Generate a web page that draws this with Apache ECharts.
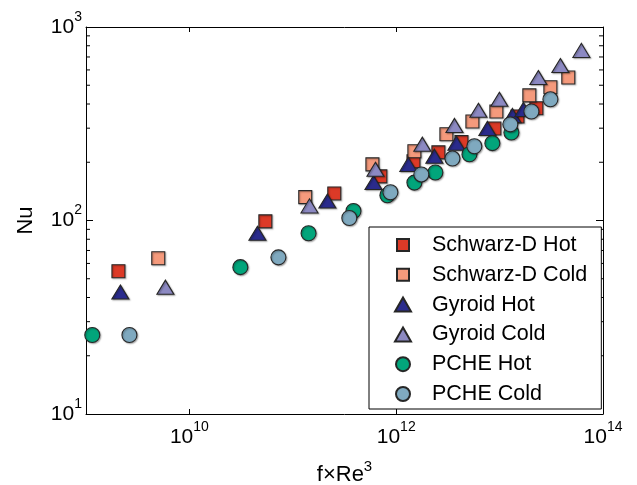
<!DOCTYPE html>
<html>
<head>
<meta charset="utf-8">
<script src="https://cdn.jsdelivr.net/npm/echarts@6/dist/echarts.min.js"></script>
<style>html,body{margin:0;padding:0;background:#fff}#c{width:637px;height:485px}</style>
</head>
<body>
<div id="c"></div>
<script>
// ---- data ----
const seriesNames = ['Schwarz-D Hot', 'Schwarz-D Cold', 'Gyroid Hot', 'Gyroid Cold', 'PCHE Hot', 'PCHE Cold'];
const sdHotX  = [2.06e9, 5.43e10, 2.52e11, 7.03e11, 1.47e12, 2.56e12, 4.28e12, 8.91e12, 1.49e13, 2.27e13];
const sdHotY  = [54.7, 99, 138, 169, 202, 225, 254, 299, 345, 380];
const sdColdX = [5.0e9, 1.32e11, 5.89e11, 1.50e12, 3.06e12, 5.46e12, 9.31e12, 1.94e13, 3.10e13, 4.62e13];
const sdColdY = [63.8, 132, 195, 228, 279, 325, 366, 443, 488, 548];
const gyHotX  = [2.15e9, 4.55e10, 2.16e11, 6.03e11, 1.31e12, 2.34e12, 3.82e12, 7.62e12, 1.33e13, 1.70e13];
const gyHotY  = [42.7, 85.9, 126, 157, 195, 215, 251, 299, 349, 375];
const gyColdX = [5.86e9, 1.45e11, 6.30e11, 1.79e12, 3.66e12, 6.24e12, 9.95e12, 2.37e13, 3.87e13, 6.18e13];
const gyColdY = [45.2, 119, 184, 248, 310, 371, 423, 548, 632, 757];
const pcHotX  = [1.15e9, 3.11e10, 1.42e11, 3.86e11, 8.22e11, 1.50e12, 2.39e12, 5.11e12, 8.51e12, 1.30e13];
const pcHotY  = [25.6, 57.4, 85.9, 112, 135, 157, 177, 220, 251, 285];
const pcColdX = [2.63e9, 7.26e10, 3.52e11, 8.79e11, 1.75e12, 3.50e12, 5.70e12, 1.27e13, 2.03e13, 3.10e13];
const pcColdY = [25.6, 64.5, 103, 140, 173, 209, 242, 314, 366, 423];

const xMin = 1e9, xMax = 1e14, yMin = 10, yMax = 1000;
const xExpMin = 9, xExpMax = 14;               // exponents for the decade labels
const yMinorTicks = [20, 30, 40, 50, 60, 70, 80, 90, 200, 300, 400, 500, 600, 700, 800, 900];

const xs = [sdHotX, sdColdX, gyHotX, gyColdX, pcHotX, pcColdX];
const ys = [sdHotY, sdColdY, gyHotY, gyColdY, pcHotY, pcColdY];
const colors  = ['#dc3a27', '#f59a7c', '#2a2b8c', '#8c89c2', '#02a57b', '#7fa9bf'];
const symbols = ['rect', 'rect', 'triangle', 'triangle', 'circle', 'circle'];
const sizes   = [13, 13, [17, 14], [17, 14], 15, 15];
const squareIcon = 'path://M0,0M16,14M2,1h12v12h-12z';
const legendIcons = [squareIcon, squareIcon, 'triangle', 'triangle', 'circle', 'circle'];

const FONT = '"Liberation Sans", Arial, Helvetica, sans-serif';
const rich = {
  b: { fontSize: 21, lineHeight: 34, fontFamily: FONT, color: '#000' },
  s: { fontSize: 14, lineHeight: 14, fontFamily: FONT, color: '#000', verticalAlign: 'top' }
};

const chart = echarts.init(document.getElementById('c'), null, { renderer: 'canvas' });

const series = seriesNames.map((name, i) => ({
  name,
  type: 'scatter',
  xAxisIndex: 0, yAxisIndex: 0,
  symbol: symbols[i],
  symbolSize: sizes[i],
  data: xs[i].map((x, k) => [x, ys[i][k]]),
  itemStyle: {
    color: colors[i], borderColor: '#262626', borderWidth: 1.1, opacity: 1,
    shadowColor: 'rgba(0,0,0,0.3)', shadowBlur: 1.5, shadowOffsetX: 1, shadowOffsetY: 1
  },
  emphasis: { disabled: true },
  z: 3 + i
}));

// minor ticks of the log y axis (left and right edges)
series.push({
  type: 'custom',
  xAxisIndex: 0, yAxisIndex: 0,
  silent: true, clip: false, z: 20,
  data: yMinorTicks.map(v => [v]),
  renderItem: function (params, api) {
    const v = api.value(0);
    const l = api.coord([xMin, v]);
    const r = api.coord([xMax, v]);
    return {
      type: 'group',
      children: [
        { type: 'line', shape: { x1: l[0], y1: l[1], x2: l[0] + 4, y2: l[1] }, style: { stroke: '#000', lineWidth: 1 } },
        { type: 'line', shape: { x1: r[0] - 4, y1: r[1], x2: r[0], y2: r[1] }, style: { stroke: '#000', lineWidth: 1 } }
      ]
    };
  }
});

const lineStyle = { color: '#000', width: 1 };

const option = {
  animation: false,
  backgroundColor: '#fff',
  grid: { left: 86, right: 34, top: 27, bottom: 71, containLabel: false, outerBoundsMode: 'none' },
  xAxis: [
    { type: 'log', logBase: 10, min: xMin, max: xMax, show: false, gridIndex: 0 },
    { // bottom decade labels
      type: 'value', min: xExpMin, max: xExpMax, splitNumber: 3, position: 'bottom', gridIndex: 0,
      axisLine: { show: true, lineStyle }, splitLine: { show: false },
      axisTick: { show: true, inside: true, length: 5, lineStyle },
      axisLabel: {
        margin: 6, rich,
        formatter: v => (v % 2 === 0 && v > xExpMin) ? '{b|10}{s|' + v + '}' : ''
      },
      name: '{b|f×Re}{s|3}', nameLocation: 'middle', nameGap: 45,
      nameTextStyle: { rich: { b: { fontSize: 22, lineHeight: 31, fontFamily: FONT, color: '#000' }, s: { fontSize: 15, lineHeight: 15, fontFamily: FONT, color: '#000', verticalAlign: 'top' } } }
    },
    { // top ticks
      type: 'value', min: xExpMin, max: xExpMax, splitNumber: 3, position: 'top', gridIndex: 0,
      axisLine: { show: true, lineStyle }, splitLine: { show: false },
      axisTick: { show: true, inside: true, length: 5, lineStyle },
      axisLabel: { show: false }
    }
  ],
  yAxis: [
    {
      type: 'log', logBase: 10, min: yMin, max: yMax, position: 'left', gridIndex: 0,
      axisLine: { show: true, lineStyle }, splitLine: { show: false },
      axisTick: { show: true, inside: true, length: 7, lineStyle },
      axisLabel: {
        margin: 4, rich,
        formatter: v => '{b|10}{s|' + Math.round(Math.log10(v)) + '}'
      },
      name: 'Nu', nameLocation: 'middle', nameGap: 49,
      nameTextStyle: { fontSize: 22, fontFamily: FONT, color: '#000' }
    },
    {
      type: 'log', logBase: 10, min: yMin, max: yMax, position: 'right', gridIndex: 0,
      axisLine: { show: true, lineStyle }, splitLine: { show: false },
      axisTick: { show: true, inside: true, length: 7, lineStyle },
      axisLabel: { show: false }
    }
  ],
  legend: {
    orient: 'vertical',
    left: 369, top: 227,
    padding: [7, 14, 4, 25],
    itemGap: 7.8,
    itemWidth: 16, itemHeight: 14,
    backgroundColor: '#fff',
    borderColor: '#000', borderWidth: 1,
    textStyle: { fontSize: 21.5, lineHeight: 22, fontFamily: FONT, color: '#000', padding: [0, 0, 0, 16] },
    data: seriesNames.map((n, i) => ({ name: n, icon: legendIcons[i] })),
    selectedMode: false,
    z: 30
  },
  series
};
chart.setOption(option);
</script>
</body>
</html>
